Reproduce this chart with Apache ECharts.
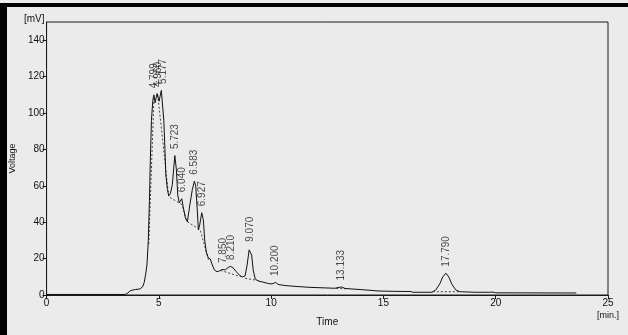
<!DOCTYPE html>
<html>
<head>
<meta charset="utf-8">
<script src="https://cdn.jsdelivr.net/npm/echarts@6/dist/echarts.min.js"></script>
<style>
html,body{margin:0;padding:0;background:#ebebeb;}
#c{width:628px;height:335px;}
</style>
</head>
<body>
<div id="c"></div>
<script>
// Chromatogram signal: time [min] and voltage [mV]
const signalTime = [0,3.50,3.60,3.75,3.95,4.15,4.28,4.35,4.42,4.47,4.53,4.58,4.62,4.67,4.73,4.78,4.83,4.92,5.01,5.11,5.16,5.22,5.27,5.31,5.38,5.44,5.51,5.60,5.71,5.78,5.84,5.91,6.02,6.09,6.18,6.27,6.38,6.49,6.58,6.64,6.71,6.76,6.82,6.91,6.98,7.04,7.11,7.20,7.29,7.38,7.47,7.59,7.69,7.82,7.96,8.09,8.20,8.31,8.44,8.58,8.71,8.84,8.93,9.02,9.07,9.13,9.20,9.29,9.42,9.60,9.87,10.04,10.20,10.31,10.62,11.11,11.73,12.40,12.84,12.98,13.13,13.29,13.60,13.96,14.49,14.76,15.51,16.22,16.31,17.16,17.33,17.51,17.64,17.78,17.91,18.04,18.22,18.40,19.07,19.73,19.87,20.00,23.59];
const signalVolt = [0.3,0.3,1.0,2.5,3.0,3.3,4.5,7,12,16.5,30,52,74,96,107,110,105.6,110.7,106.5,112.4,112,96,80,66,58,54.5,55.6,60.6,76.6,69,55,50.7,52.9,48,42.4,40.2,49.6,57.9,62.5,60,46.8,35.8,38.6,45.2,41.3,30.3,23.7,20.4,19.8,16.5,13.8,12.8,13.2,14,13.8,15.2,15.7,14.9,12.9,11,9.9,10.5,16.5,24.8,25.7,22,13.8,8.8,7.7,7.2,6.3,6.1,6.9,5.8,5.2,4.7,4.2,3.9,3.7,4.1,4.4,3.6,3.3,3.0,2.5,2.2,2.0,1.9,1.5,1.5,2.8,6.1,9.9,12,9.9,6.1,2.8,1.8,1.5,1.5,1.6,1.2,1.1];

// Integration baselines (null separates segments)
const baseTime = [4.55,4.78,null,4.95,5.44,6.03,6.25,6.84,7.21,null,7.75,8.65,null,8.84,9.44,null,12.90,13.40,null,17.20,18.40];
const baseVolt = [28,108,null,110,54,49.6,40.4,35.8,19.3,null,13.5,10,null,9.2,7.9,null,3.6,3.4,null,1.8,1.8];

// Peak annotations
const peakTimes  = [4.799,4.960,5.177,5.723,6.040,6.583,6.927,7.850,8.210,9.070,10.200,13.133,17.790];
const peakHeights = [110,110.7,112.4,76.6,52.9,62.5,45.2,14,15.7,25.7,6.9,4.4,12];
const peakLabels = ['4.799','4.960','5.177','5.723','6.040','6.583','6.927','7.850','8.210','9.070','10.200','13.133','17.790'];

// Axis ticks
const xTicks = [0,5,10,15,20,25];
const yTicks = [0,20,40,60,80,100,120,140];

const signal = signalTime.map((t,i)=>[t, signalVolt[i]]);
const baseline = baseTime.map((t,i)=> t===null ? [null,null] : [t, baseVolt[i]]);
const peaks = peakTimes.map((t,i)=>[t, peakHeights[i], peakLabels[i]]);

const FONT = 'Liberation Sans, Arial, sans-serif';
const chart = echarts.init(document.getElementById('c'), null, {renderer:'canvas'});
chart.setOption({
  animation:false,
  backgroundColor:'#ebebeb',
  grid:{left:46, right:20, top:22, bottom:40, show:true, borderColor:'#1a1a1a', borderWidth:1, backgroundColor:'transparent'},
  xAxis:{
    type:'value', min:0, max:25, interval:5,
    name:'Time', nameLocation:'middle', nameGap:22,
    nameTextStyle:{fontFamily:FONT, fontSize:10, color:'#111'},
    axisLine:{onZero:false, lineStyle:{color:'#1a1a1a', width:1}},
    axisTick:{show:true, length:4, inside:false, lineStyle:{color:'#1a1a1a'}, customValues:xTicks},
    axisLabel:{fontFamily:FONT, fontSize:10, color:'#111', margin:3, customValues:xTicks},
    splitLine:{show:false}
  },
  yAxis:{
    type:'value', min:0, max:150, interval:20,
    name:'Voltage', nameLocation:'middle', nameGap:26, nameRotate:90,
    nameTextStyle:{fontFamily:FONT, fontSize:9, color:'#111'},
    axisLine:{show:true, onZero:false, lineStyle:{color:'#1a1a1a', width:1}},
    axisTick:{show:true, length:4, inside:false, lineStyle:{color:'#1a1a1a'}, customValues:yTicks},
    axisLabel:{fontFamily:FONT, fontSize:10, color:'#111', margin:2, customValues:yTicks},
    splitLine:{show:false}
  },
  graphic:[
    {type:'rect', shape:{x:0, y:3, width:628, height:4}, style:{fill:'#000'}},
    {type:'rect', shape:{x:0, y:3, width:7, height:332}, style:{fill:'#000'}},
    {type:'text', left:24, top:14, style:{text:'[mV]', font:'10px '+FONT, fill:'#111'}},
    {type:'text', left:597, top:311, style:{text:'[min.]', font:'9px '+FONT, fill:'#111'}}
  ],
  series:[
    {
      type:'line', data:baseline, showSymbol:false, connectNulls:false,
      lineStyle:{color:'#444', width:1, type:[2,2]}, z:2, silent:true
    },
    {
      type:'line', data:signal, showSymbol:false,
      lineStyle:{color:'#111', width:1}, z:3, silent:true
    },
    {
      type:'scatter', data:peaks, symbolSize:1, itemStyle:{color:'rgba(0,0,0,0)'}, z:4, silent:true,
      label:{
        show:true, position:'top', distance:6, rotate:90, align:'left', verticalAlign:'middle',
        fontFamily:FONT, fontSize:10, color:'#222',
        formatter:p=>p.data[2]
      }
    }
  ]
});
</script>
</body>
</html>
